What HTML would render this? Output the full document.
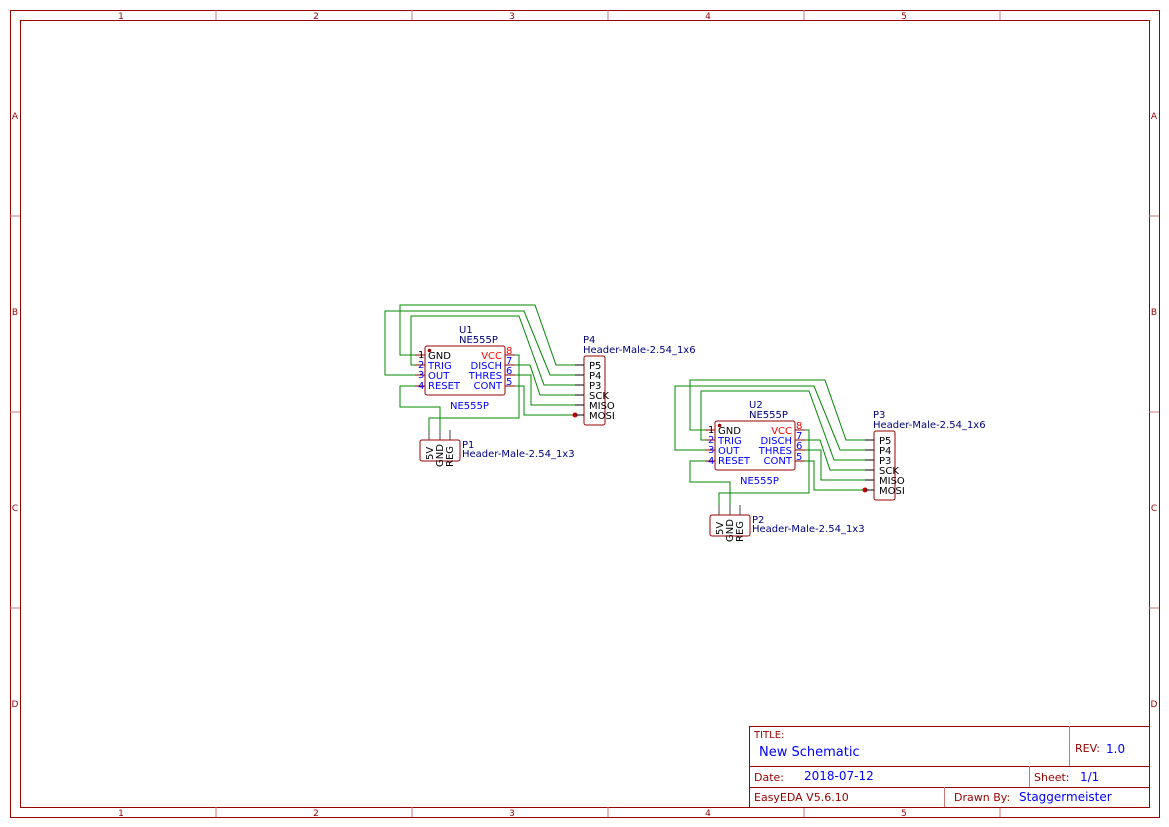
<!DOCTYPE html>
<html><head><meta charset="utf-8"><style>
html,body{margin:0;padding:0;background:#fff}
svg{display:block}
text{font-family:"DejaVu Sans","Liberation Sans",sans-serif}
</style></head><body>
<svg width="1169" height="827" viewBox="0 0 1169 827" xmlns="http://www.w3.org/2000/svg">
<defs>
<g id="ckt">
  <g fill="none" stroke="#008800" stroke-width="1">
    <polyline points="418,355 400,355 400,305 535,305 556,365 575,365"/>
    <polyline points="418,375 385,375 385,311 524,311 550,375 575,375"/>
    <polyline points="418,365 411,365 411,316 519,316 544,385 575,385"/>
    <polyline points="512,365 530,365 540,395 575,395"/>
    <polyline points="512,375 531,375 531,405 575,405"/>
    <polyline points="512,386 524,386 524,415 575,415"/>
    <polyline points="512,355 519,355 519,418 429,418 429,432"/>
    <polyline points="418,386 400,386 400,407 440,407 440,432"/>
  </g>
  <circle cx="575" cy="415" r="2.5" fill="#cc0000"/>
  <rect x="425" y="346" width="80" height="49" rx="2" fill="#fff" stroke="#990000" stroke-width="1"/>
  <circle cx="429.5" cy="350.5" r="1.8" fill="#990000"/>
  <g stroke="#880000" stroke-width="1">
    <line x1="415" y1="355" x2="425" y2="355"/><line x1="415" y1="365" x2="425" y2="365"/>
    <line x1="415" y1="375" x2="425" y2="375"/><line x1="415" y1="386" x2="425" y2="386"/>
    <line x1="505" y1="355" x2="515" y2="355"/><line x1="505" y1="365" x2="515" y2="365"/>
    <line x1="505" y1="375" x2="515" y2="375"/><line x1="505" y1="386" x2="515" y2="386"/>
  </g>
  <g font-size="10">
    <text x="418" y="358" fill="#000">1</text>
    <text x="418" y="368" fill="#0000ff">2</text>
    <text x="418" y="378" fill="#0000ff">3</text>
    <text x="418" y="389" fill="#0000ff">4</text>
    <text x="428" y="359" fill="#000">GND</text>
    <text x="428" y="369" fill="#0000ff">TRIG</text>
    <text x="428" y="379" fill="#0000ff">OUT</text>
    <text x="428" y="389" fill="#0000ff">RESET</text>
    <text x="502" y="359" fill="#ff0000" text-anchor="end">VCC</text>
    <text x="502" y="369" fill="#0000ff" text-anchor="end">DISCH</text>
    <text x="502" y="379" fill="#0000ff" text-anchor="end">THRES</text>
    <text x="502" y="389" fill="#0000ff" text-anchor="end">CONT</text>
    <text x="506" y="354" fill="#ff0000">8</text>
    <text x="506" y="364" fill="#0000ff">7</text>
    <text x="506" y="374" fill="#0000ff">6</text>
    <text x="506" y="385" fill="#0000ff">5</text>
    <text x="459" y="343" fill="#000080">NE555P</text>
    <text x="450" y="409" fill="#0000ff">NE555P</text>
  </g>
  <rect x="584" y="356" width="21" height="69" rx="2" fill="#fff" stroke="#990000"/>
  <g stroke="#000" stroke-width="1">
    <line x1="575" y1="365" x2="584" y2="365"/><line x1="575" y1="375" x2="584" y2="375"/>
    <line x1="575" y1="385" x2="584" y2="385"/><line x1="575" y1="395" x2="584" y2="395"/>
    <line x1="575" y1="405" x2="584" y2="405"/><line x1="575" y1="415" x2="584" y2="415"/>
  </g>
  <g font-size="10" fill="#000">
    <text x="589" y="369">P5</text><text x="589" y="379">P4</text>
    <text x="589" y="389">P3</text><text x="589" y="399">SCK</text>
    <text x="589" y="409">MISO</text><text x="589" y="419">MOSI</text>
  </g>
  <rect x="420" y="440" width="40" height="21" rx="2" fill="#fff" stroke="#990000"/>
  <g stroke="#444" stroke-width="1">
    <line x1="429" y1="430" x2="429" y2="440"/><line x1="440" y1="430" x2="440" y2="440"/><line x1="450" y1="430" x2="450" y2="440"/>
  </g>
  <g font-size="10" fill="#000">
    <text transform="translate(433,460) rotate(-90)">5V</text>
    <text transform="translate(443,467) rotate(-90)">GND</text>
    <text transform="translate(453,467) rotate(-90)">REG</text>
  </g>
</g>
</defs>
<g fill="none" stroke="#990000" stroke-width="1">
  <rect x="10.5" y="10.5" width="1149" height="807"/>
  <rect x="20.5" y="20.5" width="1129" height="787"/>
</g>
<g stroke="#cc7777" stroke-width="1">
  <line x1="216" y1="10" x2="216" y2="20"/><line x1="412" y1="10" x2="412" y2="20"/><line x1="608" y1="10" x2="608" y2="20"/><line x1="804" y1="10" x2="804" y2="20"/><line x1="1000" y1="10" x2="1000" y2="20"/>
  <line x1="216" y1="807" x2="216" y2="817"/><line x1="412" y1="807" x2="412" y2="817"/><line x1="608" y1="807" x2="608" y2="817"/><line x1="804" y1="807" x2="804" y2="817"/><line x1="1000" y1="807" x2="1000" y2="817"/>
  <line x1="10" y1="216" x2="20" y2="216"/><line x1="10" y1="412" x2="20" y2="412"/><line x1="10" y1="608" x2="20" y2="608"/>
  <line x1="1149" y1="216" x2="1159" y2="216"/><line x1="1149" y1="412" x2="1159" y2="412"/><line x1="1149" y1="608" x2="1159" y2="608"/>
</g>
<g font-size="9" fill="#990000" text-anchor="middle">
  <text x="121" y="19">1</text><text x="316" y="19">2</text><text x="512" y="19">3</text><text x="708" y="19">4</text><text x="904" y="19">5</text>
  <text x="121" y="816">1</text><text x="316" y="816">2</text><text x="512" y="816">3</text><text x="708" y="816">4</text><text x="904" y="816">5</text>
  <text x="15" y="119">A</text><text x="15" y="315">B</text><text x="15" y="511">C</text><text x="15" y="707">D</text>
  <text x="1154" y="119">A</text><text x="1154" y="315">B</text><text x="1154" y="511">C</text><text x="1154" y="707">D</text>
</g>
<use href="#ckt"/>
<use href="#ckt" transform="translate(290,75)"/>
<g font-size="10" fill="#000080">
<text x="459" y="333">U1</text>
<text x="749" y="408">U2</text>
<text x="462" y="448">P1</text>
<text x="462" y="457">Header-Male-2.54_1x3</text>
<text x="583" y="343">P4</text>
<text x="583" y="353">Header-Male-2.54_1x6</text>
<text x="752" y="523">P2</text>
<text x="752" y="532">Header-Male-2.54_1x3</text>
<text x="873" y="418">P3</text>
<text x="873" y="428">Header-Male-2.54_1x6</text>
</g>
<g fill="none" stroke="#990000" stroke-width="1">
  <rect x="749.5" y="726.5" width="400" height="81"/>
  <line x1="749" y1="766.5" x2="1149" y2="766.5"/>
  <line x1="749" y1="787.5" x2="1149" y2="787.5"/>
</g>
<g stroke="#cc7777" stroke-width="1">
  <line x1="1069.5" y1="726" x2="1069.5" y2="766"/>
  <line x1="1029.5" y1="766" x2="1029.5" y2="787"/>
  <line x1="944.5" y1="787" x2="944.5" y2="807"/>
</g>
<g font-size="11">
  <text x="754" y="738" fill="#990000" font-size="10">TITLE:</text>
  <text x="759" y="756" fill="#0000ff" font-size="13">New Schematic</text>
  <text x="1075" y="752" fill="#990000">REV:</text>
  <text x="1106" y="753" fill="#0000ff" font-size="12">1.0</text>
  <text x="754" y="781" fill="#990000">Date:</text>
  <text x="804" y="780" fill="#0000ff" font-size="12">2018-07-12</text>
  <text x="1034" y="781" fill="#990000">Sheet:</text>
  <text x="1080" y="781" fill="#0000ff" font-size="12">1/1</text>
  <text x="754" y="801" fill="#990000">EasyEDA V5.6.10</text>
  <text x="954" y="801" fill="#990000">Drawn By:</text>
  <text x="1019" y="801" fill="#0000ff" font-size="12">Staggermeister</text>
</g>
</svg>
</body></html>
